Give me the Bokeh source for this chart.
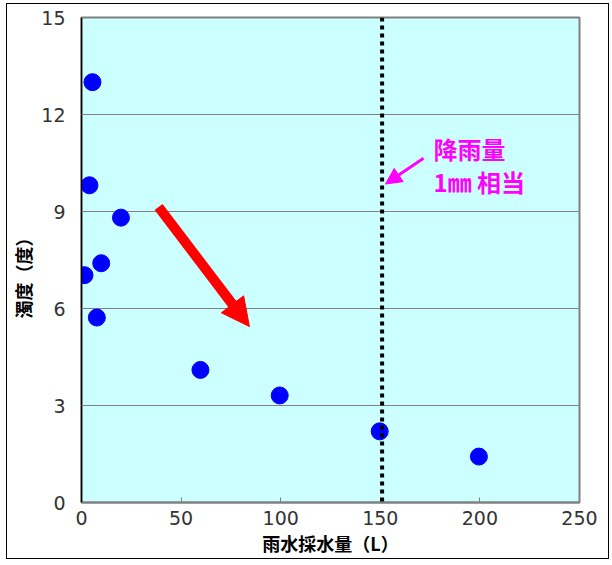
import math
from bokeh.plotting import figure
from bokeh.models import Range1d, Arrow, NormalHead, ColumnDataSource, FixedTicker, Span, InlineStyleSheet
from bokeh.core.properties import value
from bokeh.embed import file_html
from bokeh.resources import INLINE

# data
water = [1.5, 4.0, 5.5, 7.7, 9.9, 19.8, 59.7, 99.5, 149.7, 199.5]
turbidity = [7.03, 9.81, 13.0, 5.72, 7.40, 8.81, 4.10, 3.31, 2.20, 1.42]
x_ticks = [0, 50, 100, 150, 200, 250]
y_ticks = [0, 3, 6, 9, 12, 15]
rain_1mm_x = 150.9
note_lines = ["降雨量", "1㎜ 相当"]
note_x = [176.7, 176.7]
note_y = [10.94, 9.94]
trend_start = (38.7, 9.14)
trend_end = (84.3, 5.44)
note_arrow_start = (171.7, 10.65)
note_arrow_end = (152.6, 9.85)
x_title = "雨水採水量（L）"
y_title = "濁度（度）\u3000\u3000"

CJK = "Noto Sans CJK JP"

p = figure(frame_width=498, frame_height=485,
           x_range=Range1d(0, 250), y_range=Range1d(0, 15),
           output_backend="svg", toolbar_location=None,
           min_border_left=66, min_border_right=29, min_border_top=13, min_border_bottom=52,
           background_fill_color="#CCFFFF", border_fill_color="white")
p.stylesheets = [InlineStyleSheet(css=":host { margin-left: 6px !important; margin-top: 3px !important; border: 1px solid black; }")]

p.outline_line_color = "#808080"
p.outline_line_width = 2

p.xgrid.visible = False
p.ygrid.grid_line_color = "#808080"
p.ygrid.grid_line_width = 1
p.ygrid.ticker = FixedTicker(ticks=y_ticks)

for ax in (p.xaxis[0], p.yaxis[0]):
    ax.major_tick_in = 5
    ax.major_tick_out = 0
    ax.minor_tick_in = 0
    ax.minor_tick_out = 0
    ax.major_label_text_font = "DejaVu Sans"
    ax.major_label_text_font_size = "19px"
    ax.major_label_text_color = "#333333"

p.xaxis.ticker = FixedTicker(ticks=x_ticks)
p.yaxis.ticker = FixedTicker(ticks=y_ticks)
p.xaxis.axis_line_color = "#808080"
p.xaxis.axis_line_width = 2
p.xaxis.major_tick_line_color = "#808080"
p.yaxis.axis_line_color = "black"
p.yaxis.axis_line_width = 1.5
p.yaxis.major_tick_line_color = "#808080"
p.xaxis.major_label_standoff = 8
p.yaxis.major_label_standoff = 16

p.xaxis.axis_label = x_title
p.xaxis.axis_label_text_font = CJK
p.xaxis.axis_label_text_font_style = "bold"
p.xaxis.axis_label_text_font_size = "18px"
p.xaxis.axis_label_text_color = "black"
p.xaxis.axis_label_standoff = 2

p.yaxis.axis_label = y_title
p.yaxis.axis_label_text_font = CJK
p.yaxis.axis_label_text_font_style = "bold"
p.yaxis.axis_label_text_font_size = "18px"
p.yaxis.axis_label_text_color = "black"
p.yaxis.axis_label_standoff = 2

# 1 mm rainfall line
p.add_layout(Span(location=rain_1mm_x, dimension="height", line_color="black",
                  line_width=4, line_dash="4 4"))

src = ColumnDataSource(dict(x=water, y=turbidity))
p.scatter("x", "y", source=src, size=17, color="#0000FF")

# trend arrow
p.add_layout(Arrow(x_start=trend_start[0], y_start=trend_start[1],
                   x_end=trend_end[0], y_end=trend_end[1],
                   line_color="#FF0000", line_width=10,
                   end=NormalHead(size=28, fill_color="#FF0000", line_color="#FF0000", line_width=1)))

# annotation arrow
p.add_layout(Arrow(x_start=note_arrow_start[0], y_start=note_arrow_start[1],
                   x_end=note_arrow_end[0], y_end=note_arrow_end[1],
                   line_color="#FF00FF", line_width=3,
                   end=NormalHead(size=16, fill_color="#FF00FF", line_color="#FF00FF", line_width=1)))

tsrc = ColumnDataSource(dict(x=note_x, y=note_y, t=note_lines))
p.text("x", "y", text="t", source=tsrc, text_font=value(CJK), text_font_style="bold",
       text_font_size="24px", text_color="#FF00FF", text_baseline="middle", text_align="left")

open("out.html", "w").write(file_html(p, INLINE))
